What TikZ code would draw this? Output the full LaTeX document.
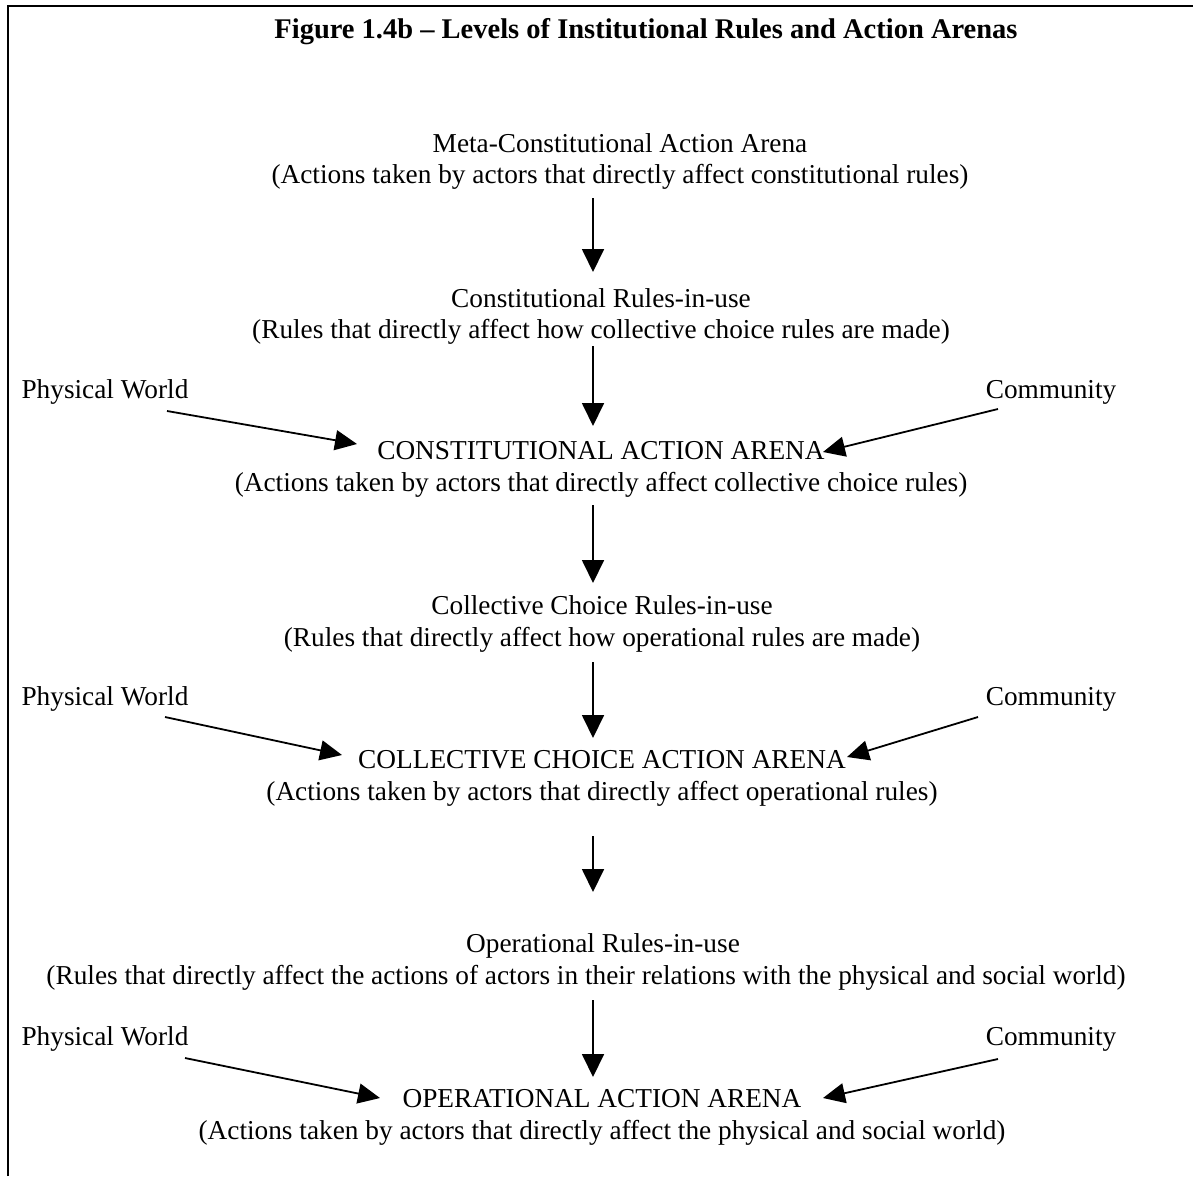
\documentclass[tikz,border=0pt]{standalone}
\usepackage{fontspec}
\setmainfont{Liberation Serif}
\usetikzlibrary{arrows.meta,calc}
\begin{document}
\begin{tikzpicture}[x=1pt,y=-1pt,
  lbl/.style={font=\fontsize{27.3}{32}\selectfont, inner sep=0pt, text height=19pt, text depth=4pt},
  ttl/.style={font=\fontsize{28.5}{34}\selectfont\bfseries, inner sep=0pt},
  flow/.style={line width=1.8pt, -{Triangle[length=23pt,width=22pt]}},
  feed/.style={line width=1.8pt, -{Triangle[length=22pt,width=20pt]}}]
\useasboundingbox (0,0) rectangle (1193,1176);
% frame
\draw[line width=2.4pt] (8,1176) -- (8,6) -- (1193,6);
% title
\node[ttl] (title) at (646,32) {Figure 1.4b -- Levels of Institutional Rules and Action Arenas};
% spine of the vertical arrows
\coordinate (spine) at (593,0);
% levels
\node[lbl] (metaT) at (620,145) {Meta-Constitutional Action Arena};
\node[lbl] (metaD) at (620,176) {(Actions taken by actors that directly affect constitutional rules)};
\node[lbl] (crulesT) at (601,300) {Constitutional Rules-in-use};
\node[lbl] (crulesD) at (601,331) {(Rules that directly affect how collective choice rules are made)};
\node[lbl] (carenaT) at (601,452) {CONSTITUTIONAL ACTION ARENA};
\node[lbl] (carenaD) at (601,484) {(Actions taken by actors that directly affect collective choice rules)};
\node[lbl] (ccrulesT) at (602,607) {Collective Choice Rules-in-use};
\node[lbl] (ccrulesD) at (602,639) {(Rules that directly affect how operational rules are made)};
\node[lbl] (ccarenaT) at (602,761) {COLLECTIVE CHOICE ACTION ARENA};
\node[lbl] (ccarenaD) at (602,793) {(Actions taken by actors that directly affect operational rules)};
\node[lbl] (orulesT) at (603,945) {Operational Rules-in-use};
\node[lbl] (orulesD) at (586,977) {(Rules that directly affect the actions of actors in their relations with the physical and social world)};
\node[lbl] (oarenaT) at (602,1100) {OPERATIONAL ACTION ARENA};
\node[lbl] (oarenaD) at (602,1132) {(Actions taken by actors that directly affect the physical and social world)};
% side inputs
\node[lbl] (pw1) at (105,391) {Physical World};
\node[lbl] (cm1) at (1051,391) {Community};
\node[lbl] (pw2) at (105,698) {Physical World};
\node[lbl] (cm2) at (1051,698) {Community};
\node[lbl] (pw3) at (105,1038) {Physical World};
\node[lbl] (cm3) at (1051,1038) {Community};
% vertical flow
\draw[flow] ($(metaD.center -| spine)+(0,22)$) -- ($(crulesT.center -| spine)+(0,-28)$);
\draw[flow] ($(crulesD.center -| spine)+(0,15)$) -- ($(carenaT.center -| spine)+(0,-26)$);
\draw[flow] ($(carenaD.center -| spine)+(0,21)$) -- ($(ccrulesT.center -| spine)+(0,-24)$);
\draw[flow] ($(ccrulesD.center -| spine)+(0,23)$) -- ($(ccarenaT.center -| spine)+(0,-23)$);
\draw[flow] ($(ccarenaD.center -| spine)+(0,43)$) -- ($(orulesT.center -| spine)+(0,-53)$);
\draw[flow] ($(orulesD.center -| spine)+(0,23)$) -- ($(oarenaT.center -| spine)+(0,-23)$);
% physical world and community feeding the arenas
\draw[feed] ($(pw1.center)+(62,20)$) -- ($(carenaT.center)+(-244,-8)$);
\draw[feed] ($(cm1.center)+(-53,18)$) -- ($(carenaT.center)+(222,0)$);
\draw[feed] ($(pw2.center)+(60,19)$) -- ($(ccarenaT.center)+(-260,-6)$);
\draw[feed] ($(cm2.center)+(-73,19)$) -- ($(ccarenaT.center)+(245,-4)$);
\draw[feed] ($(pw3.center)+(80,20)$) -- ($(oarenaT.center)+(-222,-2)$);
\draw[feed] ($(cm3.center)+(-53,21)$) -- ($(oarenaT.center)+(221,-2)$);
\end{tikzpicture}
\end{document}
